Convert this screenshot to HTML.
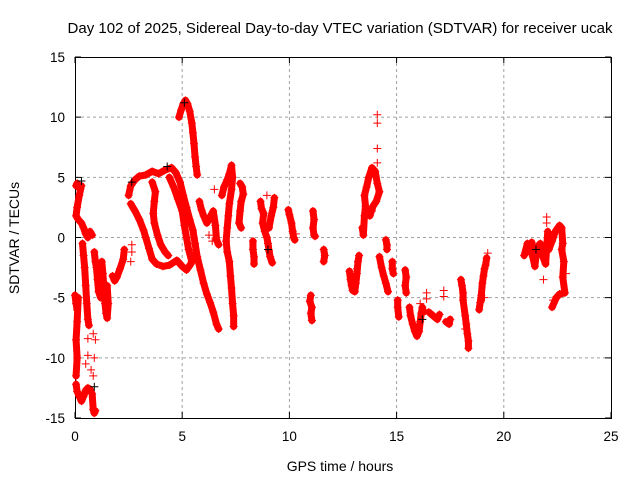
<!DOCTYPE html>
<html><head><meta charset="utf-8"><style>
html,body{margin:0;padding:0;background:#fff;}
svg{display:block;font-family:"Liberation Sans",sans-serif;}
</style></head><body>
<svg id="chart" width="640" height="480" viewBox="0 0 640 480" xmlns="http://www.w3.org/2000/svg">
<rect width="640" height="480" fill="#fff"/>
<text x="340" y="33" font-size="15" text-anchor="middle">Day 102 of 2025, Sidereal Day-to-day VTEC variation (SDTVAR) for receiver ucak</text>
<g id="grid"></g>
<g id="axes"></g>
<g id="marks"></g>
<text x="340" y="471" font-size="14" text-anchor="middle">GPS time / hours</text>
<text transform="translate(19,238) rotate(-90)" font-size="14" text-anchor="middle">SDTVAR / TECUs</text>
</svg>
<script>
const xTicks=[0,5,10,15,20,25];
const yTicks=[-15,-10,-5,0,5,10,15];
const trackA=[[0.05,4.3],[0.1,4.5],[0.2,4.1],[0.3,4.3],[0.2,3.5],[0.1,2.5],[0.05,1.8],[0.15,1.5],[0.3,1.2],[0.4,0.8],[0.5,0.3],[0.6,0],[0.7,0.5],[0.8,0.2]];
const trackB=[[0.35,-0.5],[0.4,-1.5],[0.45,-2.5],[0.5,-4],[0.55,-5.5],[0.6,-6.8],[0.65,-7.3]];
const trackC=[[0.0,-4.8],[0.05,-5.5],[0.1,-6],[0.15,-5],[0.1,-7],[0.05,-8.5],[0.1,-10],[0.05,-11.5]];
const trackD=[[0.05,-12.2],[0.1,-12.8],[0.2,-13.2],[0.3,-13.6],[0.4,-13.2],[0.5,-12.7],[0.6,-12.5],[0.7,-12.6],[0.8,-13],[0.85,-14.3],[0.9,-14.6],[0.95,-14.4]];
const trackE=[[0.9,-1.2],[0.95,-2],[1.0,-2.5],[1.05,-3.5],[1.1,-4.5],[1.2,-5],[1.15,-3],[1.25,-2],[1.3,-3],[1.35,-4.2],[1.4,-5.5],[1.45,-6.3],[1.5,-6.7],[1.55,-5.5],[1.5,-4]];
const trackF=[[1.75,-3.2],[1.85,-3.6],[1.95,-3.3],[2.1,-2.6],[2.25,-1.8],[2.3,-1.0]];
const trackLoopOuter=[[2.5,3.5],[2.6,4.3],[2.8,4.8],[3.0,5.1],[3.3,5.2],[3.6,5.5],[3.9,5.3],[4.2,5.6],[4.5,5.8],[4.7,5.4],[4.9,4.6],[5.05,3.5],[5.2,2.5],[5.35,1.5],[5.5,0.6],[5.6,-0.5],[5.7,-1.6],[5.85,-2.7],[6.0,-3.8],[6.15,-4.7],[6.3,-5.4],[6.45,-6.2],[6.6,-7.2],[6.7,-7.6]];
const trackLoopInner=[[2.6,2.8],[2.8,2.2],[3.0,1.5],[3.2,0.6],[3.3,0],[3.45,-0.9],[3.6,-1.8],[3.8,-2.2],[4.1,-2.4],[4.4,-2.3],[4.75,-1.9],[5.0,-2.4],[5.2,-2.7],[5.4,-2.2],[5.55,-1.5]];
const trackInnerBranch=[[3.6,4.6],[3.75,3.8],[3.7,3.0],[3.65,2.0],[3.7,1.2],[3.85,0.2],[4.0,-0.6],[4.2,-1.2],[4.35,-1.5]];
const trackInnerRight=[[4.4,5.0],[4.6,4.2],[4.8,3.2],[5.0,2.2],[5.1,1.0],[5.2,0],[5.3,-1],[5.45,-2.0]];
const trackPeak=[[4.85,10.0],[4.95,10.6],[5.05,11.1],[5.15,11.4],[5.25,11.1],[5.35,10.5],[5.45,9.5],[5.5,8.7],[5.55,7.8],[5.6,6.7],[5.65,5.9],[5.7,5.2]];
const trackH6=[[5.8,3.0],[5.9,2.3],[6.0,1.8],[6.15,1.2],[6.3,1.7],[6.45,2.2],[6.55,1.0],[6.6,-0.2],[6.7,-0.6]];
const trackH7=[[6.85,3.5],[6.95,4.2],[7.1,4.8],[7.2,5.3],[7.3,6.0],[7.35,5.0],[7.3,4.0],[7.2,2.8],[7.15,1.8],[7.1,0.8],[7.05,-0.3],[7.1,-1.2],[7.2,-2.0],[7.25,-3.2],[7.3,-4.2],[7.35,-5.5],[7.4,-6.5],[7.4,-7.4]];
const trackH78=[[7.7,4.5],[7.8,4.2],[7.85,3.6],[7.75,3.0],[7.7,2.2],[7.65,1.2],[7.75,0.8]];
const trackH83=[[8.3,-0.3],[8.3,-1.0],[8.35,-1.6],[8.35,-2.2]];
const trackH9=[[8.65,3.0],[8.7,2.4],[8.8,2.0],[8.75,1.2],[8.85,0.5],[8.95,0],[9.0,-0.5],[9.05,-1.1],[9.1,-1.6],[9.2,-2.1]];
const trackH92=[[9.05,0.8],[9.15,1.8],[9.25,2.5],[9.3,3.3]];
const trackH10=[[9.95,2.3],[10.0,1.9],[10.1,1.2],[10.15,0.5],[10.2,0],[10.25,-0.2]];
const trackH11a=[[11.1,2.2],[11.15,1.5],[11.1,0.8],[11.15,0.2],[11.2,0.1]];
const trackH11b=[[11.0,-4.8],[10.95,-5.3],[11.05,-5.8],[11.0,-6.3],[11.05,-6.9]];
const trackH116=[[11.6,-1.0],[11.65,-1.5],[11.6,-2.0]];
const trackH13=[[12.8,-2.8],[12.85,-3.5],[12.9,-4.0],[12.95,-4.4],[13.05,-4.5],[13.1,-3.8],[13.15,-3.0],[13.2,-2.0],[13.25,-1.5]];
const trackH138=[[13.4,0.8],[13.45,0.2],[13.5,1.8],[13.55,2.6],[13.5,3.5],[13.6,4.2],[13.7,5.0],[13.85,5.8],[14.0,5.5],[14.1,4.5],[14.2,3.8],[14.05,3.0],[13.9,2.6],[13.75,1.8]];
const trackH143=[[14.2,-1.6],[14.3,-2.5],[14.4,-3.2],[14.5,-3.8],[14.6,-4.5]];
const trackH145=[[14.5,-0.2],[14.55,-0.6],[14.55,-1.0]];
const trackH148=[[14.8,-2.0],[14.8,-2.6],[14.85,-3.0]];
const trackH150=[[15.05,-5.2],[15.05,-5.8],[15.1,-6.6]];
const trackH154=[[15.4,-2.7],[15.45,-3.3],[15.4,-4.0],[15.45,-4.6]];
const trackH16=[[15.6,-5.8],[15.65,-6.5],[15.75,-7.2],[15.85,-7.8],[15.95,-8.2],[16.05,-7.8],[16.1,-7.0],[16.15,-6.3],[16.2,-5.8],[16.25,-6.2]];
const trackH17=[[16.5,-6.2],[16.7,-6.5],[16.9,-6.8],[17.0,-6.4]];
const trackH175=[[17.3,-7.0],[17.45,-7.2],[17.5,-6.8]];
const trackH18=[[18.0,-3.5],[18.05,-4.0],[18.1,-4.6],[18.1,-5.2],[18.2,-6.5],[18.25,-7.2],[18.3,-8.0],[18.35,-8.6],[18.35,-9.2]];
const trackH19=[[18.85,-6.0],[18.9,-5.4],[18.95,-4.8],[19.0,-3.8],[19.05,-3.2],[19.1,-2.6],[19.15,-2.3],[19.2,-1.7]];
const trackH22a=[[20.95,-1.5],[21.1,-0.5],[21.2,-1.2],[21.3,-0.4],[21.35,-1.6],[21.45,-2.4],[21.55,-0.8],[21.7,-0.5],[21.8,-1.5],[21.95,-2.2],[22.05,0.5],[22.1,-1.0],[22.25,-0.3],[22.4,0.5],[22.6,1.0],[22.7,0.8],[22.75,-0.5],[22.7,-1.0],[22.8,-2.0],[22.75,-3.3],[22.85,-4.6],[22.6,-4.7],[22.45,-5.0],[22.25,-5.8]];
const scatterRed=[[0.5,-10.5],[0.6,-9.8],[0.75,-11],[0.85,-11.5],[0.9,-10],[0.95,-8.5],[0.85,-8],[0.6,-8.4],[2.65,-1.2],[2.65,-0.6],[2.6,-2.0],[6.4,-0.3],[6.25,0.2],[6.5,4.0],[8.95,3.5],[10.3,0.3],[13.15,-2.6],[13.85,2.2],[14.1,7.4],[14.1,9.5],[14.1,10.2],[14.1,6.2],[16.1,-5.5],[16.4,-5.1],[16.4,-4.6],[17.2,-4.4],[17.2,-4.9],[18.2,-7.6],[19.1,-5.0],[19.25,-1.3],[21.85,-3.5],[22.0,1.7],[22.0,1.2],[22.3,-5.2],[22.9,-3.0]];
const scatterBlack=[[2.65,4.6],[5.1,11.2],[0.3,4.7],[4.3,5.9],[9.0,-1.0],[16.2,-6.8],[21.5,-1.0],[0.9,-12.4]];

const X0=75,X1=611,Y0=418,Y1=57;
const xs=v=>X0+(v-0)/(25-0)*(X1-X0);
const ys=v=>Y0-(v+15)/(30)*(Y0-Y1);
const NS="http://www.w3.org/2000/svg";
function mk(tag,attrs,parent){const e=document.createElementNS(NS,tag);for(const k in attrs)e.setAttribute(k,attrs[k]);parent.appendChild(e);return e;}
const grid=document.getElementById('grid'),axes=document.getElementById('axes'),marks=document.getElementById('marks');
xTicks.forEach(t=>{
  const x=xs(t);
  if(t>0&&t<25){const g=mk('line',{x1:x,x2:x,y1:Y1,y2:Y0,stroke:'#a0a0a0','stroke-dasharray':'3,3','stroke-width':1},grid);
  
  }
  const tk=mk('path',{d:`M${x},${Y0}v-6M${x},${Y1}v6`,stroke:'#000','stroke-width':1},axes);
  
  
  const lb=mk('text',{x:x,y:Y0+23,'font-size':13.5,'text-anchor':'middle'},axes);lb.textContent=t;
  
  
});
yTicks.forEach(t=>{
  const y=ys(t);
  if(t>-15&&t<15){const g=mk('line',{x1:X0,x2:X1,y1:y,y2:y,stroke:'#a0a0a0','stroke-dasharray':'3,3','stroke-width':1},grid);
  
  }
  const tk=mk('path',{d:`M${X0},${y}h6M${X1},${y}h-6`,stroke:'#000','stroke-width':1},axes);
  
  
  const lb=mk('text',{x:X0-10,y:y+5,'font-size':13.5,'text-anchor':'end'},axes);lb.textContent=t;
  
  
});
const frame=mk('rect',{x:X0+0.5,y:Y1+0.5,width:X1-X0,height:Y0-Y1,fill:'none',stroke:'#000','stroke-width':1},axes);



const tracks=[trackA,trackB,trackC,trackD,trackE,trackF,trackLoopOuter,trackLoopInner,trackInnerBranch,trackInnerRight,trackPeak,trackH6,trackH7,trackH78,trackH83,trackH9,trackH92,trackH10,trackH11a,trackH11b,trackH116,trackH13,trackH138,trackH143,trackH145,trackH148,trackH150,trackH154,trackH16,trackH17,trackH175,trackH18,trackH19,trackH22a];
function plus(p,color,name){
  const x=xs(p[0]),y=ys(p[1]);
  const m=mk('path',{d:`M${x-4},${y}h8M${x},${y-4}v8`,stroke:color,'stroke-width':1},marks);
  
  
}
tracks.forEach(tr=>{
  const pl=mk('polyline',{points:tr.map(p=>xs(p[0])+','+ys(p[1])).join(' '),fill:'none',stroke:'#ff0000','stroke-width':7,'stroke-linejoin':'round','stroke-linecap':'round'},marks);
  
  
  tr.forEach(p=>plus(p,'#ff0000','sdtvar-point'));
});
scatterRed.forEach(p=>plus(p,'#ff0000','sdtvar-point'));
scatterBlack.forEach(p=>plus(p,'#000000','sdtvar-point-black'));
</script>
</body></html>
